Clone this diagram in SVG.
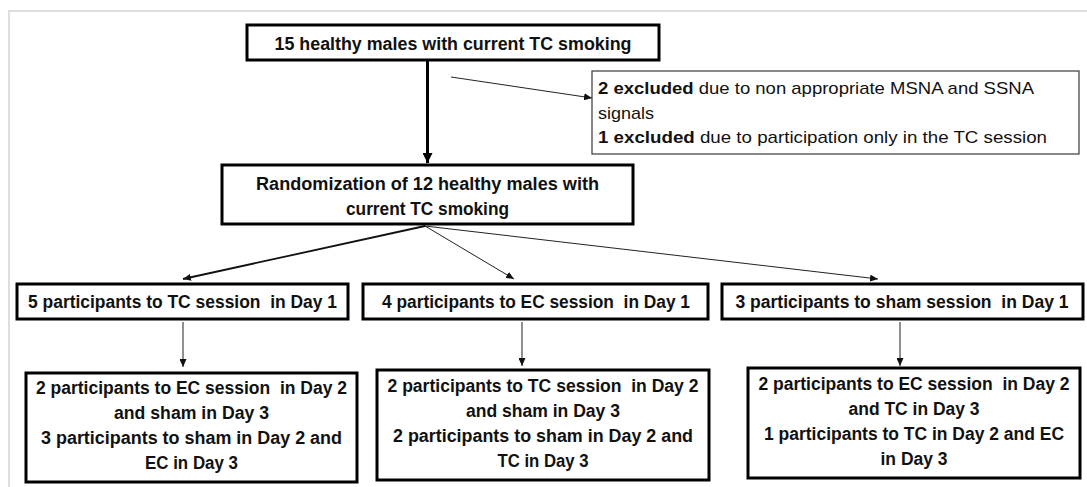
<svg xmlns="http://www.w3.org/2000/svg" width="1087" height="487" viewBox="0 0 1087 487">
<style>
.box{fill:#fff;stroke:#000;stroke-width:3}
.ex{fill:#fff;stroke:#3a3a3a;stroke-width:1.2}
.t{font-family:"Liberation Sans",Arial,sans-serif;font-size:18px;font-weight:bold;fill:#111;text-anchor:middle;white-space:pre}
.e{font-family:"Liberation Sans",Arial,sans-serif;font-size:17px;fill:#111;white-space:pre}
.b{font-weight:bold}
.thin{stroke:#222;stroke-width:1;fill:none}
</style>
<defs>
<marker id="ah" markerUnits="userSpaceOnUse" markerWidth="8" markerHeight="7" refX="8" refY="3.5" orient="auto">
<path d="M0,0 L8,3.5 L0,7 z" fill="#111"/>
</marker>
<marker id="ahb" markerUnits="userSpaceOnUse" markerWidth="10" markerHeight="10" refX="10" refY="5" orient="auto">
<path d="M0,0 L10,5 L0,10 z" fill="#000"/>
</marker>
</defs>
<rect width="1087" height="487" fill="#fff"/>
<path d="M9,487 V11 H1087" fill="none" stroke="#d4d4d4" stroke-width="1.5"/>
<g id="connectors">
<line x1="427.5" y1="61" x2="427.5" y2="163" stroke="#000" stroke-width="3" marker-end="url(#ahb)"/>
<line x1="451" y1="77" x2="592" y2="98" class="thin" marker-end="url(#ah)"/>
<line x1="425" y1="226" x2="183" y2="279" stroke="#111" stroke-width="1.8" marker-end="url(#ah)"/>
<line x1="425" y1="226" x2="514" y2="279" class="thin" marker-end="url(#ah)"/>
<line x1="425" y1="226" x2="878" y2="279" class="thin" marker-end="url(#ah)"/>
<line x1="183" y1="322" x2="183" y2="367" class="thin" marker-end="url(#ah)"/>
<line x1="522" y1="322" x2="522" y2="366" class="thin" marker-end="url(#ah)"/>
<line x1="900" y1="322" x2="900" y2="366" class="thin" marker-end="url(#ah)"/>
</g>
<g id="n-start">
<rect class="box" x="247" y="25" width="412" height="35"/>
<text class="t" x="453" y="50" textLength="357" lengthAdjust="spacingAndGlyphs">15 healthy males with current TC smoking</text>
</g>
<g id="n-excluded">
<rect class="ex" x="592" y="71" width="487" height="83"/>
<text class="e" x="598" y="94" textLength="436" lengthAdjust="spacingAndGlyphs"><tspan class="b">2 excluded</tspan> due to non appropriate MSNA and SSNA</text>
<text class="e" x="598" y="118.5" textLength="56" lengthAdjust="spacingAndGlyphs">signals</text>
<text class="e" x="598" y="143" textLength="449" lengthAdjust="spacingAndGlyphs"><tspan class="b">1 excluded</tspan> due to participation only in the TC session</text>
</g>
<g id="n-random">
<rect class="box" x="222" y="165" width="411" height="59"/>
<text class="t" x="427.5" y="190" textLength="343" lengthAdjust="spacingAndGlyphs">Randomization of 12 healthy males with</text>
<text class="t" x="427.5" y="215" textLength="163" lengthAdjust="spacingAndGlyphs">current TC smoking</text>
</g>
<g id="n-tc1">
<rect class="box" x="17" y="284" width="331" height="35"/>
<text class="t" x="182.5" y="308" textLength="309" lengthAdjust="spacingAndGlyphs">5 participants to TC session  in Day 1</text>
</g>
<g id="n-ec1">
<rect class="box" x="363" y="284" width="345" height="35"/>
<text class="t" x="536" y="308" textLength="308" lengthAdjust="spacingAndGlyphs">4 participants to EC session  in Day 1</text>
</g>
<g id="n-sham1">
<rect class="box" x="722" y="284" width="361" height="35"/>
<text class="t" x="902" y="308" textLength="333" lengthAdjust="spacingAndGlyphs">3 participants to sham session  in Day 1</text>
</g>
<g id="n-tc2">
<rect class="box" x="26" y="373" width="331" height="109"/>
<text class="t" x="191.5" y="394" textLength="311" lengthAdjust="spacingAndGlyphs">2 participants to EC session  in Day 2</text>
<text class="t" x="191.5" y="419" textLength="155" lengthAdjust="spacingAndGlyphs">and sham in Day 3</text>
<text class="t" x="191.5" y="444" textLength="301" lengthAdjust="spacingAndGlyphs">3 participants to sham in Day 2 and</text>
<text class="t" x="191.5" y="469" textLength="93" lengthAdjust="spacingAndGlyphs">EC in Day 3</text>
</g>
<g id="n-ec2">
<rect class="box" x="377" y="370" width="332" height="110"/>
<text class="t" x="543" y="392" textLength="311" lengthAdjust="spacingAndGlyphs">2 participants to TC session  in Day 2</text>
<text class="t" x="543" y="417" textLength="154" lengthAdjust="spacingAndGlyphs">and sham in Day 3</text>
<text class="t" x="543" y="442" textLength="300" lengthAdjust="spacingAndGlyphs">2 participants to sham in Day 2 and</text>
<text class="t" x="543" y="467" textLength="91" lengthAdjust="spacingAndGlyphs">TC in Day 3</text>
</g>
<g id="n-sham2">
<rect class="box" x="748" y="368" width="332" height="110"/>
<text class="t" x="914" y="390" textLength="311" lengthAdjust="spacingAndGlyphs">2 participants to EC session  in Day 2</text>
<text class="t" x="914" y="415" textLength="131" lengthAdjust="spacingAndGlyphs">and TC in Day 3</text>
<text class="t" x="914" y="440" textLength="300" lengthAdjust="spacingAndGlyphs">1 participants to TC in Day 2 and EC</text>
<text class="t" x="914" y="465" textLength="67" lengthAdjust="spacingAndGlyphs">in Day 3</text>
</g>
</svg>
